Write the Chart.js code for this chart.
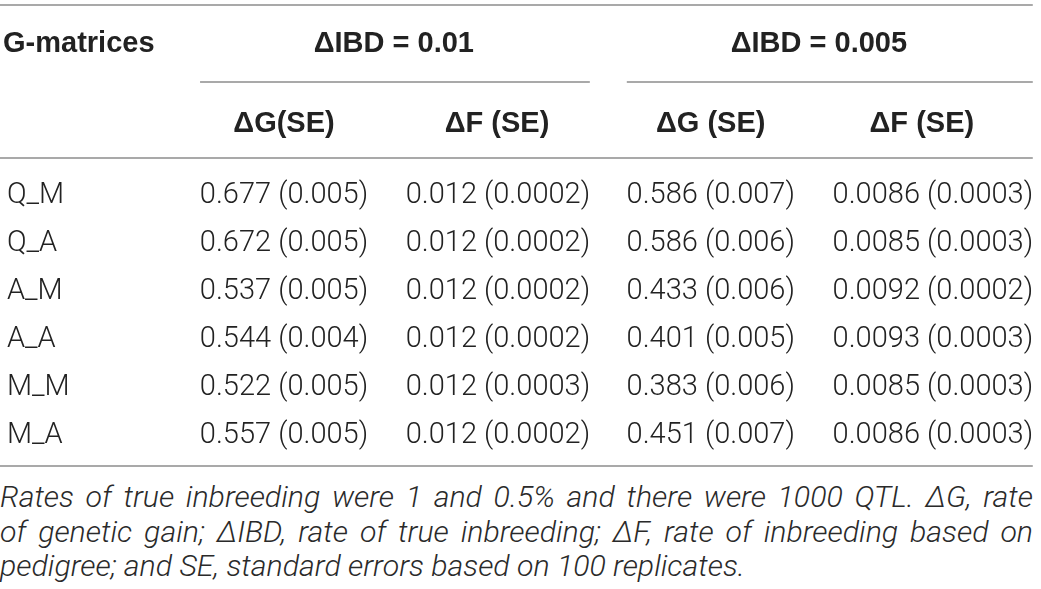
<!DOCTYPE html>
<html>
<head>
<meta charset="utf-8">
<script src="https://cdn.jsdelivr.net/npm/chart.js@4.4.1/dist/chart.umd.min.js"></script>
<style>
  html, body { margin: 0; padding: 0; background: #fff; }
  #wrap { position: relative; width: 1041px; height: 589px; }
  #tbl { position: absolute; left: 0; top: 0; }
  #note { position: absolute; left: 0; top: 480px; width: 1033px;
          font-family: Roboto, "Liberation Sans", sans-serif; font-weight: 300;
          font-style: italic; font-size: 26px; line-height: 34.5px; color: #2a2a2a; }
  #note div { white-space: nowrap; }
  #note .j { text-align: justify; text-align-last: justify; white-space: normal; }
  #note span { display: inline-block; }
</style>
</head>
<body>
<div id="wrap">
  <canvas id="tbl" width="1041" height="475"></canvas>
  <div id="note">
    <div class="j">Rates of true inbreeding were 1 and 0.5% and there were 1000 QTL. ΔG, rate</div>
    <div class="j">of genetic gain; ΔIBD, rate of true inbreeding; ΔF, rate of inbreeding based on</div>
    <div><span id="last">pedigree; and SE, standard errors based on 100 replicates.</span></div>
  </div>
</div>
<script>
// table content
const stub_header = 'G-matrices'
const group_headers = ['ΔIBD = 0.01', 'ΔIBD = 0.005']
const col_headers = ['ΔG(SE)', 'ΔF (SE)', 'ΔG (SE)', 'ΔF (SE)']
const row_labels = ['Q_M', 'Q_A', 'A_M', 'A_A', 'M_M', 'M_A']

const dG_01 = [0.677, 0.672, 0.537, 0.544, 0.522, 0.557]
const dG_01_se = [0.005, 0.005, 0.005, 0.004, 0.005, 0.005]
const dF_01 = [0.012, 0.012, 0.012, 0.012, 0.012, 0.012]
const dF_01_se = [0.0002, 0.0002, 0.0002, 0.0002, 0.0003, 0.0002]
const dG_005 = [0.586, 0.586, 0.433, 0.401, 0.383, 0.451]
const dG_005_se = [0.007, 0.006, 0.006, 0.005, 0.006, 0.007]
const dF_005 = [0.0086, 0.0085, 0.0092, 0.0093, 0.0085, 0.0086]
const dF_005_se = [0.0003, 0.0003, 0.0002, 0.0003, 0.0003, 0.0003]

// layout (x in column units, y in row units)
const col_x = [1, 1.989, 2.973, 4.0]
const col_head_x = [1, 1.985, 2.973, 3.949]
const group_x = [1.508, 3.473]
const group_rules = [[0.612, 2.414], [2.585, 4.462]]
const stub_x = -0.281
const stub_head_x = -0.299
const full_rule = [-0.313, 4.462]
const y_top_rule = -3.917, y_group = -3.146, y_group_rule = -2.31
const y_head = -1.48, y_head_rule = -0.73, y_bottom_rule = 5.69

const fmt = (v, se, d1, d2) => `${v.toFixed(d1)} (${se.toFixed(d2)})`
const columns = [
    { vals: dG_01, se: dG_01_se, d1: 3, d2: 3 },
    { vals: dF_01, se: dF_01_se, d1: 3, d2: 4 },
    { vals: dG_005, se: dG_005_se, d1: 3, d2: 3 },
    { vals: dF_005, se: dF_005_se, d1: 4, d2: 4 }
]

const BODY_FONT = '300 29px Roboto, "Liberation Sans", sans-serif'
const BOLD_FONT = 'bold 29px "Liberation Sans", Arial, sans-serif'
const TEXT = '#222'
const RULE = '#8c8c8c'

const tablePlugin = {
    id: 'tablePlugin',
    afterDatasetsDraw(chart) {
        const ctx = chart.ctx
        const xs = chart.scales.x
        const ys = chart.scales.y

        function hline(x0, x1, y) {
            ctx.beginPath()
            ctx.moveTo(xs.getPixelForValue(x0), ys.getPixelForValue(y))
            ctx.lineTo(xs.getPixelForValue(x1), ys.getPixelForValue(y))
            ctx.stroke()
        }
        function text(str, x, y, align, font) {
            ctx.font = font
            ctx.textAlign = align
            ctx.textBaseline = 'alphabetic'
            ctx.fillText(str, xs.getPixelForValue(x), ys.getPixelForValue(y) + 10)
        }

        ctx.save()
        ctx.strokeStyle = RULE
        ctx.lineWidth = 1.5
        hline(full_rule[0], full_rule[1], y_top_rule)
        group_rules.forEach(r => hline(r[0], r[1], y_group_rule))
        hline(full_rule[0], full_rule[1], y_head_rule)
        hline(full_rule[0], full_rule[1], y_bottom_rule)

        ctx.fillStyle = TEXT
        text(stub_header, stub_head_x, y_group, 'left', BOLD_FONT)
        group_headers.forEach((g, i) => text(g, group_x[i], y_group, 'center', BOLD_FONT))
        col_headers.forEach((h, i) => text(h, col_head_x[i], y_head, 'center', BOLD_FONT))

        // body cells, placed at the dataset points
        chart.data.datasets.forEach((ds, di) => {
            const meta = chart.getDatasetMeta(di)
            meta.data.forEach((pt, i) => {
                ctx.font = BODY_FONT
                ctx.textAlign = ds.align
                ctx.textBaseline = 'alphabetic'
                ctx.fillText(ds.cells[i], pt.x, pt.y + 10)
            })
        })
        ctx.restore()
    }
}

const datasets = [{
    label: 'rows',
    data: row_labels.map((r, i) => ({ x: stub_x, y: i })),
    cells: row_labels,
    align: 'left',
    pointRadius: 0
}]
columns.forEach((c, ci) => {
    datasets.push({
        label: col_headers[ci],
        data: c.vals.map((v, i) => ({ x: col_x[ci], y: i })),
        cells: c.vals.map((v, i) => fmt(v, c.se[i], c.d1, c.d2)),
        align: 'center',
        pointRadius: 0
    })
})

new Chart(document.getElementById('tbl'), {
    type: 'scatter',
    data: { datasets: datasets },
    options: {
        responsive: false,
        animation: false,
        layout: { padding: 0 },
        scales: {
            x: { type: 'linear', display: false, min: -0.313, max: 4.5 },
            y: { type: 'linear', display: false, min: -4.02, max: 5.875, reverse: true }
        },
        plugins: { legend: { display: false }, tooltip: { enabled: false } }
    },
    plugins: [tablePlugin]
})

// fit the footnote size so the last line ends where it does in the source
const note = document.getElementById('note')
const last = document.getElementById('last')
const w = last.getBoundingClientRect().width
if (w > 0) note.style.fontSize = (26 * 745 / w).toFixed(2) + 'px'
</script>
</body>
</html>
